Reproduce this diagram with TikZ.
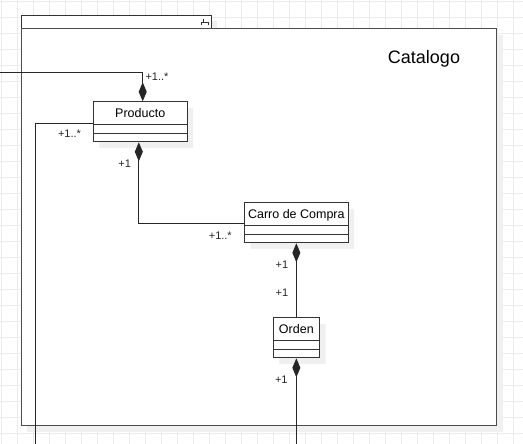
\documentclass[tikz,border=0pt]{standalone}
\usepackage{fontspec}
\setmainfont{Liberation Sans}
\usetikzlibrary{positioning, shadows, arrows.meta, shapes.multipart}

\newcommand{\hdstrut}{\rule[-6.8pt]{0pt}{22pt}}
\newcommand{\cpstrut}{\rule{0pt}{7.5pt}}

\begin{document}
\begin{tikzpicture}[
    x=1pt, y=-1pt,
    gridline/.style={draw=black!8, line width=0.8pt},
    shadowed/.style={drop shadow={shadow xshift=6pt, shadow yshift=-6pt, fill=black!6, opacity=1}},
    pkg/.style={draw=black!70, line width=1.2pt, fill=white, shadowed, inner sep=0pt},
    umlclass/.style={rectangle split, rectangle split parts=3, draw=black!80, line width=1pt, fill=white, shadowed, inner xsep=2pt, inner ysep=0pt, font=\fontsize{12.5}{14}\selectfont},
    comp/.style={draw=black!85, line width=1pt, -{Diamond[length=19pt, width=8pt]}},
    assoc/.style={draw=black!85, line width=1pt},
    mult/.style={font=\fontsize{11}{13}\selectfont, text=black!85, inner sep=0pt}]

    \useasboundingbox[fill=white] (0,0) rectangle (523,444);
    \foreach \gx in {1,17,...,513} \draw[gridline] (\gx,0) -- (\gx,444);
    \foreach \gy in {1,17,...,433} \draw[gridline] (0,\gy) -- (523,\gy);

    %%% Package frame
    \node[pkg, draw=black!80, line width=1pt, minimum width=190pt, minimum height=13pt, anchor=north west] (tab) at (20.7,15) {};
    \node[pkg, minimum width=475.3pt, minimum height=397pt, anchor=north west] (catalogo) at (20.7,28) {};
    \draw[black!80, line width=0.9pt] ([shift={(-10,10.5)}]tab.north east) -- ++(0,-3.5) -- ++(6.6,0) -- ++(0,3.5)
        ([shift={(-8.2,7)}]tab.north east) -- ++(0,-2.5);
    \node[font=\fontsize{18}{20}\selectfont, anchor=base] (title) at (424,63.3) {Catalogo};

    %%% Classes
    \node[umlclass, minimum width=94pt, anchor=north west] (producto) at (92.7,101.3)
        {\hdstrut Producto\nodepart{second}\cpstrut\nodepart{third}\cpstrut};
    \node[umlclass, minimum width=103.7pt, anchor=north west] (carro) at (244,202.3)
        {\hdstrut Carro de Compra\nodepart{second}\cpstrut\nodepart{third}\cpstrut};
    \node[umlclass, minimum width=46.3pt, below=74pt of carro] (orden)
        {\hdstrut Orden\nodepart{second}\cpstrut\nodepart{third}\cpstrut};

    \coordinate (catin) at (0,72.7);
    \coordinate (prodout) at (35.3,444);
    \coordinate (ordenout) at (orden.south |- 0,444);

    %%% Relations between classes
    \draw[comp] (catin) -| ([xshift=2.5pt]producto.north);
    \draw[assoc] ([yshift=-2pt]producto.west) -| (prodout);
    \draw[comp] ([yshift=-1pt]carro.west) -| ([xshift=-1.4pt]producto.south);
    \draw[comp] (orden.north) -- (carro.south);
    \draw[comp] (ordenout) -- (orden.south);

    %%% Multiplicities
    \node[mult] (m1) at (157,77) {+1..*};
    \node[mult] (m2) at (69.5,134) {+1..*};
    \node[mult] (m3) at (124.7,163.7) {+1};
    \node[mult] (m4) at (220.3,236) {+1..*};
    \node[mult] (m5) at (282,264.5) {+1};
    \node[mult] (m6) at (282,292.8) {+1};
    \node[mult] (m7) at (281.3,380) {+1};

\end{tikzpicture}
\end{document}
